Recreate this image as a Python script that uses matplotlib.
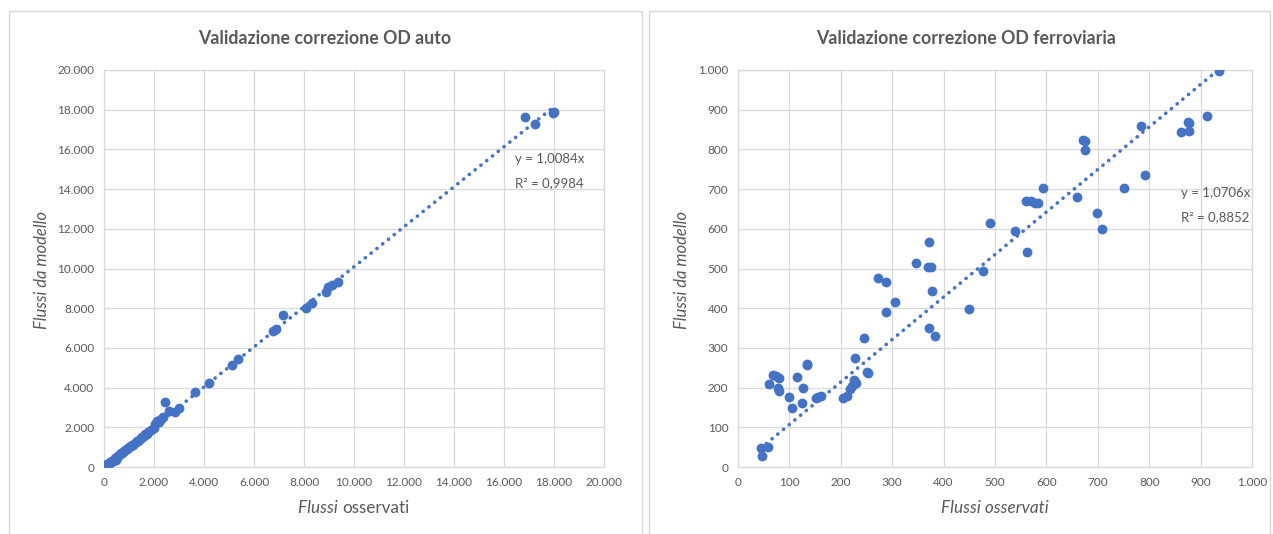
import matplotlib
matplotlib.use("Agg")
import matplotlib.pyplot as plt
from matplotlib.patches import Rectangle
from matplotlib.ticker import FuncFormatter, MultipleLocator
import numpy as np

plt.rcParams['font.family'] = ['Lato', 'DejaVu Sans']

# ---------------- data: auto ----------------
auto_obs = [50, 70, 90, 110, 130, 160, 190, 220, 250, 280, 310, 340, 380, 420, 450, 490,
            520, 560, 600, 640, 680, 720, 760, 800, 850, 900, 950, 1000, 1060, 1120,
            1150, 1220, 1300, 1350, 1420, 1470, 1520, 1580, 1630, 1700, 1760, 1880,
            2000, 2040, 2120, 2200, 2280, 2360, 2440, 2610, 2820, 3010,
            3630, 4190, 5100, 5340, 6760, 6890, 7170, 8060, 8310, 8880, 8960, 9120, 9350,
            16820, 17220, 17960, 18000]
auto_mod = [80, 40, 120, 100, 160, 130, 210, 180, 260, 230, 300, 280, 360, 410, 440, 340,
            500, 530, 590, 640, 700, 690, 780, 810, 850, 930, 960, 1000, 1050, 1130,
            1110, 1200, 1310, 1330, 1420, 1450, 1530, 1570, 1640, 1680, 1760, 1880,
            1960, 2170, 2300, 2250, 2400, 2510, 3280, 2820, 2790, 2990,
            3760, 4240, 5130, 5420, 6840, 6960, 7640, 8000, 8240, 8800, 9060, 9180, 9300,
            17610, 17300, 17830, 17900]

# ---------------- data: ferroviaria ----------------
fer_obs = [44, 46, 58, 60, 69, 73, 79, 78, 79, 99, 105, 114, 125, 126, 134, 134,
           151, 156, 162, 204, 213, 218, 222, 225, 230, 227, 246, 251, 252,
           273, 287, 287, 306, 347, 372, 369, 375, 377, 371, 383, 450, 477, 491,
           538, 562, 560, 570, 577, 583, 593, 660, 672, 675, 675, 699, 708, 751,
           785, 792, 862, 875, 877, 877, 912, 936]
fer_mod = [49, 27, 51, 209, 231, 228, 225, 199, 191, 177, 148, 227, 161, 198, 259, 256,
           173, 177, 180, 174, 179, 197, 203, 218, 211, 274, 326, 240, 237,
           476, 467, 391, 416, 515, 568, 504, 504, 443, 350, 331, 397, 494, 615,
           595, 541, 669, 669, 666, 666, 703, 681, 823, 822, 798, 639, 600, 703,
           860, 735, 844, 869, 866, 847, 884, 997]

auto_slope, auto_r2 = 1.0084, 0.9984
fer_slope, fer_r2 = 1.0706, 0.8852

BLUE = '#4472C4'
GRID = '#d9d9d9'
TXT = '#595959'

W, H = 1273, 534
fig = plt.figure(figsize=(W / 100, H / 100), dpi=100)
fig.patch.set_facecolor('white')

def fx(px):
    return px / W

def fy(py):
    return 1 - py / H

# panel borders
for x0, x1 in [(9, 642), (649, 1270)]:
    fig.add_artist(Rectangle((fx(x0), fy(545)), fx(x1 - x0), (545 - 11) / H,
                             transform=fig.transFigure, fill=False,
                             edgecolor=GRID, lw=1.0))

fmt = FuncFormatter(lambda v, p: f"{int(round(v)):,}".replace(',', '.'))

def setup(ax, xmax, step):
    ax.set_xlim(0, xmax)
    ax.set_ylim(0, xmax)
    ax.xaxis.set_major_locator(MultipleLocator(step))
    ax.yaxis.set_major_locator(MultipleLocator(step))
    ax.xaxis.set_major_formatter(fmt)
    ax.yaxis.set_major_formatter(fmt)
    ax.grid(True, color=GRID, lw=0.9)
    ax.set_axisbelow(True)
    for s in ax.spines.values():
        s.set_color(GRID)
        s.set_linewidth(0.9)
    ax.tick_params(length=0, labelsize=8.5, labelcolor=TXT, pad=7)

DOT = (0, (0.05, 2.0))

# left chart
ax1 = fig.add_axes([fx(104), fy(467), fx(500), (467 - 70) / H])
setup(ax1, 20000, 2000)
xs = np.array([min(auto_obs), max(auto_obs)])
ax1.plot(xs, auto_slope * xs, color=BLUE, lw=2.6, linestyle=DOT,
         dash_capstyle='round', zorder=2)
ax1.scatter(auto_obs, auto_mod, s=50, color=BLUE, zorder=3, linewidths=0)
ax1.text(16450, 15500, f"y = {auto_slope:.4f}x".replace('.', ','), color=TXT, fontsize=9.5,
         va='center')
ax1.text(16450, 14300, f"R² = {auto_r2:.4f}".replace('.', ','), color=TXT, fontsize=9.5,
         va='center')

# right chart
ax2 = fig.add_axes([fx(738), fy(467), fx(514), (467 - 70) / H])
setup(ax2, 1000, 100)
xs2 = np.array([min(fer_obs), max(fer_obs)])
ax2.plot(xs2, fer_slope * xs2, color=BLUE, lw=2.6, linestyle=DOT,
         dash_capstyle='round', zorder=2)
ax2.scatter(fer_obs, fer_mod, s=50, color=BLUE, zorder=3, linewidths=0)
ax2.text(862, 690, f"y = {fer_slope:.4f}x".replace('.', ','), color=TXT, fontsize=9.5,
         va='center')
ax2.text(862, 630, f"R² = {fer_r2:.4f}".replace('.', ','), color=TXT, fontsize=9.5,
         va='center')

# titles
fig.text(fx(325), fy(38), "Validazione correzione OD auto", ha='center', va='center',
         fontsize=12.8, fontweight='bold', color=TXT)
fig.text(fx(966), fy(38), "Validazione correzione OD ferroviaria", ha='center', va='center',
         fontsize=12.8, fontweight='bold', color=TXT)

# x labels
fig.text(fx(342), fy(508), "Flussi ", ha='right', va='center', fontsize=12.3,
         style='italic', color=TXT)
fig.text(fx(342), fy(508), "osservati", ha='left', va='center', fontsize=12.3, color=TXT)
fig.text(fx(995), fy(508), "Flussi osservati", ha='center', va='center', fontsize=12.3,
         style='italic', color=TXT)

# y labels
fig.text(fx(42), fy(270), "Flussi da modello", ha='center', va='center', fontsize=12,
         style='italic', color=TXT, rotation=90)
fig.text(fx(682), fy(270), "Flussi da modello", ha='center', va='center', fontsize=12,
         style='italic', color=TXT, rotation=90)

fig.savefig("out.png", dpi=100, facecolor='white')
